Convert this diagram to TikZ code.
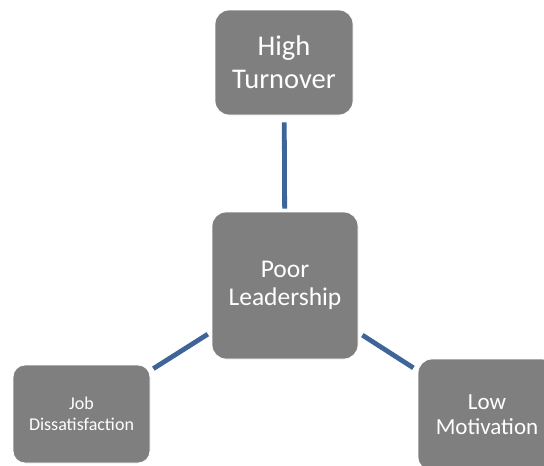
\documentclass[tikz,border=0pt]{standalone}
\usepackage{fontspec}
\setmainfont{Carlito}
\begin{document}
\begin{tikzpicture}[x=1pt,y=-1pt,
  box/.style={fill=boxgray, draw=white, line width=0.8pt, rounded corners=14pt,
    text=white, align=center, inner sep=0pt, anchor=center},
  link/.style={draw=linkblue, line width=4.8pt}]
\definecolor{boxgray}{RGB}{127,127,127}
\definecolor{linkblue}{RGB}{62,100,152}
\useasboundingbox (0,0) rectangle (544,466);
\clip (0,0) rectangle (544,466);
% central cause and its three effects
\node[box, minimum width=138pt, minimum height=105pt,
  font=\fontsize{28.5}{33}\selectfont] (ht) at (284,62.5) {High\\Turnover};
\node[box, minimum width=146pt, minimum height=147pt,
  font=\fontsize{25.5}{28}\selectfont] (pl) at (285,285.5) {Poor\\Leadership};
\node[box, minimum width=137pt, minimum height=98pt, rounded corners=12pt,
  font=\fontsize{18}{21}\selectfont] (jd) at (81.5,414) {Job\\Dissatisfaction};
\node[box, minimum width=138pt, minimum height=112pt,
  font=\fontsize{23}{25}\selectfont] (lm) at (487,415) {Low\\Motivation};
% connectors
\draw[link, shorten <=7pt, shorten >=3pt] (ht) -- (pl);
\draw[link, shorten <=4.5pt, shorten >=3.5pt] (pl) -- (jd);
\draw[link, shorten <=4.7pt, shorten >=5pt] (pl) -- (lm);
\end{tikzpicture}
\end{document}
